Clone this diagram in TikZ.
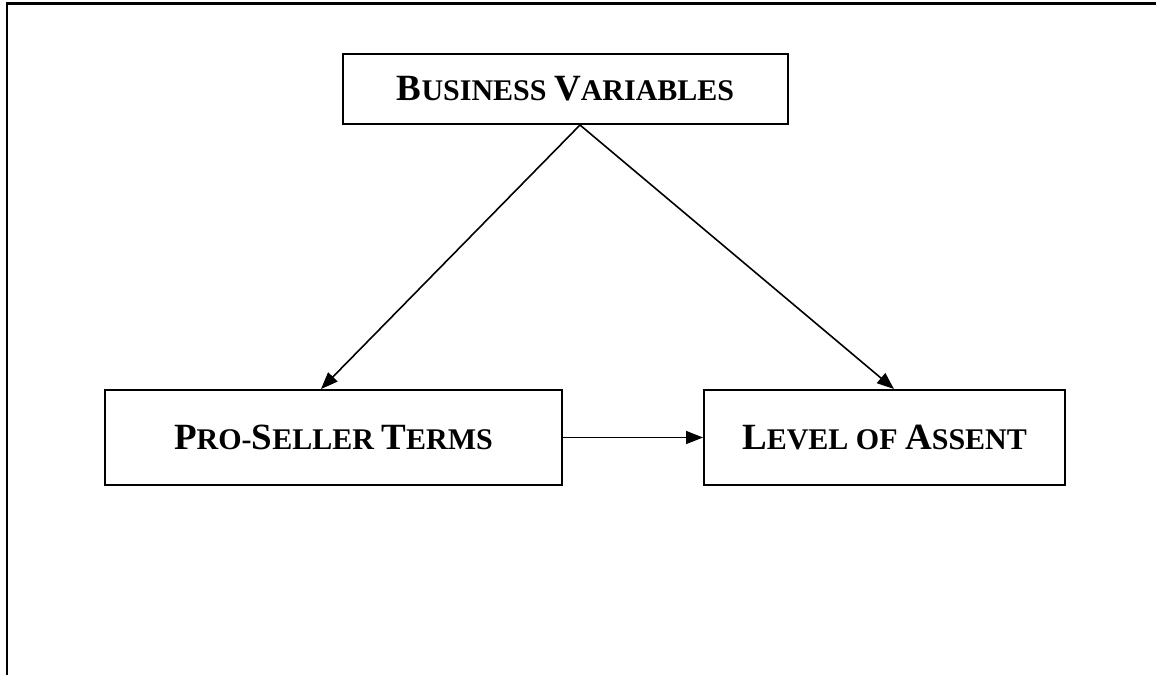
\documentclass[tikz,border=0pt]{standalone}
\usepackage{fontspec}
\setmainfont{Liberation Serif}
\usetikzlibrary{arrows.meta}
\newcommand\Cap[1]{{\fontsize{37}{40}\selectfont #1}}
\newcommand\Sm[1]{{\fontsize{30}{36}\selectfont #1}}
\tikzset{
  box/.style={draw, line width=2pt, inner sep=0pt, font=\bfseries},
  conn/.style={line width=1.6pt, -{Triangle[length=17pt,width=13pt]}},
  frame/.style={line width=2.8pt}
}
\begin{document}
\begin{tikzpicture}[x=1pt,y=-1pt]
\useasboundingbox (0,0) rectangle (1156,675);
\coordinate (fl) at (7,675);
\coordinate (fc) at (7,3.5);
\coordinate (fr) at (1156,3.5);
\draw[frame] (fl) -- (fc) -- (fr);
\node[box, minimum width=445pt, minimum height=70pt] (bv) at (565.5,89)
  {\Cap{B}\Sm{USINESS }\Cap{V}\Sm{ARIABLES}};
\node[box, minimum width=457pt, minimum height=95pt] (ps) at (333.5,437.5)
  {\Cap{P}\Sm{RO-}\Cap{S}\Sm{ELLER }\Cap{T}\Sm{ERMS}};
\node[box, minimum width=361pt, minimum height=95pt] (lv) at (884.5,437.5)
  {\Cap{L}\Sm{EVEL OF }\Cap{A}\Sm{SSENT}};
\draw[conn] ([xshift=14.5pt]bv.south) -- ([xshift=-12.5pt]ps.north);
\draw[conn] ([xshift=14.5pt]bv.south) -- ([xshift=9.5pt]lv.north);
\draw[conn] (ps.east) -- (lv.west);
\end{tikzpicture}
\end{document}
